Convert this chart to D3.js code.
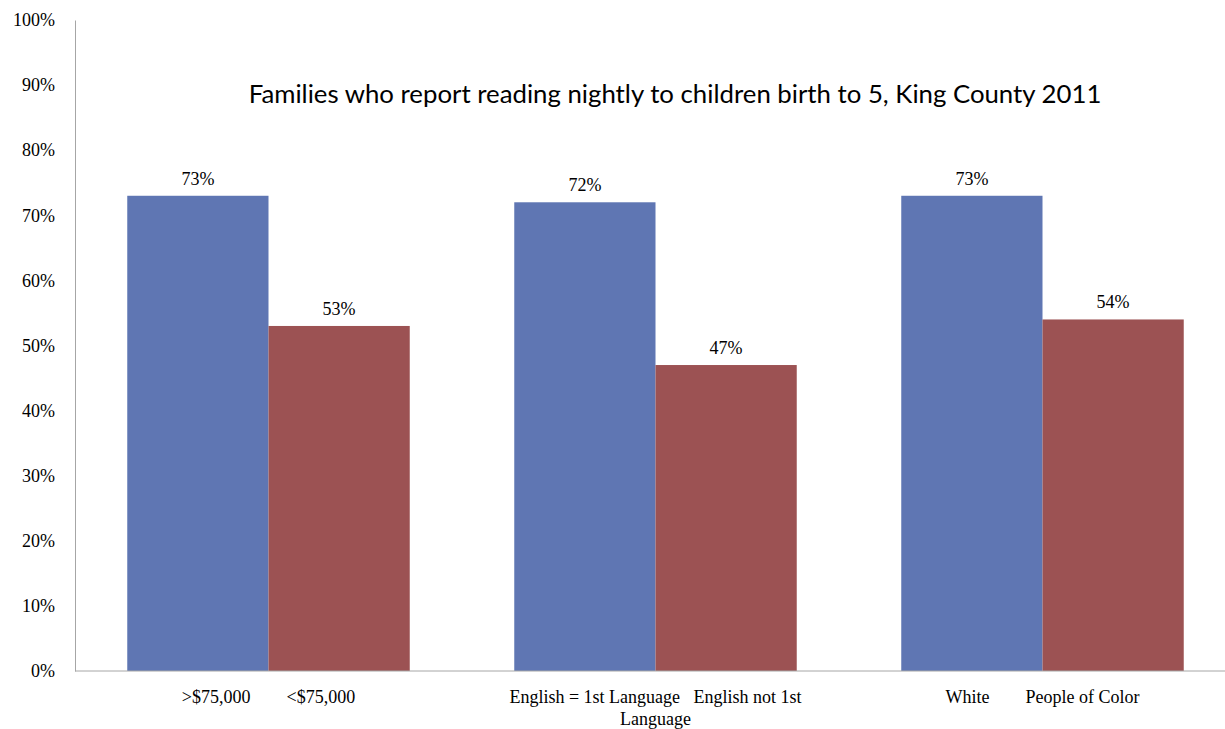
<!DOCTYPE html>
<html lang="en">
<head>
    <meta charset="UTF-8">
    <title>Families reading nightly</title>
    <script src="https://cdn.jsdelivr.net/npm/d3@7"></script>
    <style>
        body {
            margin: 0;
            padding: 0;
            background: #fff;
        }
        text {
            font-family: "Liberation Serif", serif;
            fill: #000;
            white-space: pre;
        }
        .title {
            font-family: Lato, "Open Sans", sans-serif;
        }
    </style>
</head>
<body>
<svg width="1225" height="729"></svg>
<script>
    // data
    var categories = ['>$75,000        <$75,000', 'English = 1st Language   English not 1st Language', 'White        People of Color'];
    var seriesA = [73, 72, 73];
    var seriesB = [53, 47, 54];
    var yTicks = [0, 10, 20, 30, 40, 50, 60, 70, 80, 90, 100];
    var colors = ['#5f76b3', '#9c5253'];
    var titleText = 'Families who report reading nightly to children birth to 5, King County 2011';

    var svg = d3.select('svg');
    var mLeft = 75, mRight = 1236, mTop = 20, mBottom = 671;

    var x0 = d3.scaleBand().domain(d3.range(categories.length)).range([mLeft, mRight]).paddingInner(0);
    var x1 = d3.scaleBand().domain([0, 1]).range([0, x0.bandwidth()]).paddingInner(0).paddingOuter(0.37);
    var y = d3.scaleLinear().domain([0, 100]).range([mBottom, mTop]);

    // y axis
    var yAxis = d3.axisLeft(y).tickValues(yTicks).tickSize(0).tickPadding(20)
        .tickFormat(function(d) { return d + '%'; });
    var ya = svg.append('g').attr('transform', 'translate(' + mLeft + ',0)').call(yAxis);
    ya.select('.domain').attr('stroke', '#a6a6a6');
    ya.selectAll('text').style('font-size', '18px').style('font-family', '"Liberation Serif", serif').style('fill', '#000');

    // bars
    var rows = categories.map(function(c, i) { return [seriesA[i], seriesB[i]]; });
    var groups = svg.selectAll('g.grp').data(rows).enter().append('g')
        .attr('class', 'grp')
        .attr('transform', function(d, i) { return 'translate(' + x0(i) + ',0)'; });
    groups.selectAll('rect').data(function(d) { return d; }).enter().append('rect')
        .attr('x', function(d, j) { return x1(j); })
        .attr('width', x1.bandwidth())
        .attr('y', function(d) { return y(d); })
        .attr('height', function(d) { return mBottom - y(d); })
        .attr('fill', function(d, j) { return colors[j]; });
    groups.selectAll('text.val').data(function(d) { return d; }).enter().append('text')
        .attr('class', 'val')
        .attr('x', function(d, j) { return x1(j) + x1.bandwidth() / 2; })
        .attr('y', function(d) { return y(d) - 11; })
        .attr('text-anchor', 'middle')
        .style('font-size', '18px')
        .text(function(d) { return d + '%'; });

    // x axis line
    svg.append('line').attr('x1', mLeft).attr('x2', 1225).attr('y1', mBottom).attr('y2', mBottom)
        .attr('stroke', '#a6a6a6');

    // category labels, wrapped
    var maxW = 330;
    categories.forEach(function(c, i) {
        var cx = x0(i) + x0.bandwidth() / 2;
        var t = svg.append('text')
            .attr('x', cx)
            .attr('y', 703)
            .attr('text-anchor', 'middle')
            .style('font-size', '18px');
        var words = c.split(' ');
        var line = [];
        var ts = t.append('tspan').attr('x', cx).attr('dy', 0);
        words.forEach(function(w) {
            line.push(w);
            ts.text(line.join(' '));
            if (ts.node().getComputedTextLength() > maxW && line.length > 1) {
                line.pop();
                ts.text(line.join(' ').trim());
                line = [w];
                ts = t.append('tspan').attr('x', cx).attr('dy', 22).text(w);
            }
        });
    });

    // title
    var title = svg.append('text').attr('class', 'title')
        .attr('x', 675).attr('y', 103)
        .attr('text-anchor', 'middle')
        .style('font-size', '24px')
        .text(titleText);
    var tw = title.node().getComputedTextLength();
    title.style('font-size', (24 * 853 / tw) + 'px');
</script>
</body>
</html>
